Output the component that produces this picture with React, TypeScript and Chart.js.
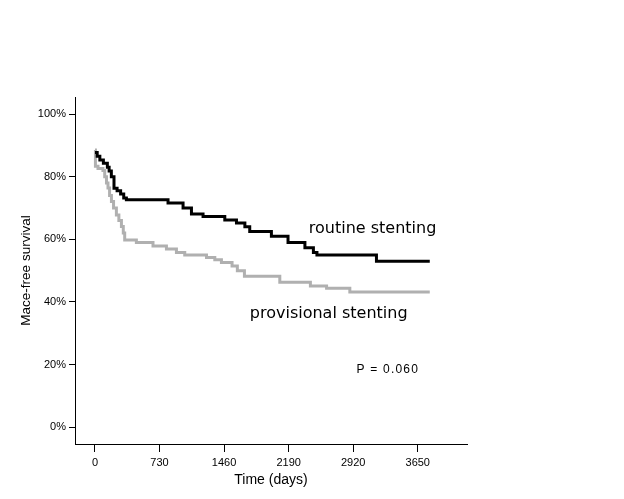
import React, { useEffect, useRef } from "react";
import { Chart, registerables } from "chart.js";

Chart.register(...registerables);

// Kaplan–Meier step data (days, % MACE-free survival)
const routineDays = [0, 25, 55, 95, 140, 160, 185, 215, 250, 290, 325, 355, 826, 996, 1091, 1222, 1468, 1600, 1695, 1750, 1995, 2183, 2374, 2470, 2510, 3183, 3786];
const routineSurvival = [87.7, 86.5, 85.3, 84.3, 83.0, 81.8, 80.0, 76.3, 75.5, 74.5, 73.2, 72.6, 71.6, 70.0, 68.1, 67.3, 66.2, 65.2, 64.0, 62.5, 61.0, 59.0, 57.3, 55.8, 55.0, 53.0, 53.0];

const provisionalDays = [0, 5, 34, 90, 110, 130, 147, 165, 186, 210, 242, 270, 299, 320, 336, 468, 656, 808, 921, 1015, 1261, 1355, 1430, 1550, 1610, 1690, 2090, 2436, 2619, 2882, 3786];
const provisionalSurvival = [88.5, 83.3, 82.6, 82.0, 80.0, 78.0, 76.4, 74.0, 72.1, 70.0, 67.8, 66.0, 64.1, 62.0, 59.8, 59.0, 57.9, 56.9, 55.8, 55.0, 54.2, 53.5, 52.6, 51.5, 50.0, 48.2, 46.3, 45.1, 44.4, 43.2, 43.2];

const xTickValues = [0, 730, 1460, 2190, 2920, 3650];
const yTickValues = [0, 20, 40, 60, 80, 100];
const seriesLabels = ["routine stenting", "provisional stenting"];
const pValueText = "P = 0.060";
const xTitle = "Time (days)";
const yTitle = "Mace-free survival";

export default function App() {
  const ref = useRef<HTMLCanvasElement>(null);

  useEffect(() => {
    const canvas = ref.current;
    if (!canvas) return;
    Chart.defaults.font.family = "'Liberation Sans', Arial, sans-serif";

    const labelPlugin = {
      id: "kmLabels",
      afterDatasetsDraw(chart: any) {
        const { ctx, scales } = chart;
        const x = scales.x;
        const y = scales.y;
        ctx.save();
        ctx.fillStyle = "#000";
        ctx.textBaseline = "alphabetic";
        ctx.textAlign = "left";
        ctx.font = "16px 'DejaVu Sans'";
        ctx.fillText(seriesLabels[0], x.getPixelForValue(2418), y.getPixelForValue(62));
        ctx.fillText(seriesLabels[1], x.getPixelForValue(1751), y.getPixelForValue(34.9));
        ctx.font = "12px 'Liberation Sans'";
        (ctx as any).letterSpacing = "1.2px";
        ctx.fillText(pValueText, x.getPixelForValue(2958), y.getPixelForValue(17.25));
        (ctx as any).letterSpacing = "0px";
        ctx.restore();
      },
    };

    const chart = new Chart(canvas, {
      type: "line",
      data: {
        datasets: [
          {
            label: seriesLabels[0],
            data: routineDays.map((d, i) => ({ x: d, y: routineSurvival[i] })),
            borderColor: "#000000",
            borderWidth: 3,
            stepped: "before",
            pointRadius: 0,
            fill: false,
            borderJoinStyle: "miter",
          },
          {
            label: seriesLabels[1],
            data: provisionalDays.map((d, i) => ({ x: d, y: provisionalSurvival[i] })),
            borderColor: "#b0b0b0",
            borderWidth: 3,
            stepped: "before",
            pointRadius: 0,
            fill: false,
            borderJoinStyle: "miter",
          },
        ],
      },
      options: {
        animation: false,
        responsive: false,
        devicePixelRatio: 1,
        layout: { padding: { left: 0, top: 97, right: 157, bottom: 0 } },
        plugins: { legend: { display: false }, tooltip: { enabled: false } },
        scales: {
          x: {
            type: "linear",
            min: -226,
            max: 4207,
            afterBuildTicks: (s: any) => {
              s.ticks = xTickValues.map((v) => ({ value: v }));
            },
            afterFit: (s: any) => {
              s.height = 55;
            },
            grid: { display: true, drawOnChartArea: false, drawTicks: true, tickLength: 8, color: "#000", lineWidth: 1 },
            border: { display: true, color: "#000", width: 1 },
            ticks: {
              color: "#000",
              font: { family: "'Liberation Sans'", size: 11 },
              padding: 4,
              maxRotation: 0,
              autoSkip: false,
              callback: (v: any) => String(v),
            },
            title: {
              display: true,
              text: xTitle,
              color: "#000",
              font: { family: "'Liberation Sans'", size: 14 },
              padding: { top: 0, bottom: 10.5 },
            },
          },
          y: {
            type: "linear",
            min: -5.33,
            max: 105.43,
            afterBuildTicks: (s: any) => {
              s.ticks = yTickValues.map((v) => ({ value: v }));
            },
            afterFit: (s: any) => {
              s.width = 75;
            },
            grid: { display: true, drawOnChartArea: false, drawTicks: true, tickLength: 6, color: "#000", lineWidth: 1 },
            border: { display: true, color: "#000", width: 1 },
            ticks: {
              color: "#000",
              font: { family: "'Liberation Sans'", size: 11 },
              padding: 3,
              callback: (v: any) => v + "%",
            },
            title: {
              display: true,
              text: yTitle,
              color: "#000",
              font: { family: "'Liberation Sans'", size: 13.5 },
              padding: { top: 18, bottom: 0 },
            },
          },
        },
      },
      plugins: [labelPlugin],
    } as any);

    return () => chart.destroy();
  }, []);

  return (
    <div style={{ position: "fixed", left: 0, top: 0, width: 624, height: 499, background: "#fff" }}>
      <canvas ref={ref} width={624} height={499} style={{ width: 624, height: 499, display: "block" }} />
    </div>
  );
}
